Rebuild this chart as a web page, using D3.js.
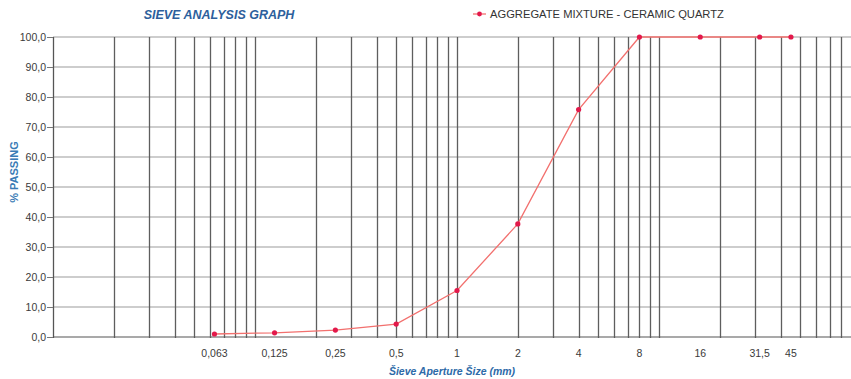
<!DOCTYPE html>
<html>
<head>
    <title>Sieve analysis graph</title>
    <meta charset="utf-8">
    <style>
        body { margin: 0; background: #fff; }
        svg { display: block; }
    </style>
</head>
<body>

<svg id="svg"></svg>
<script src="https://cdn.jsdelivr.net/npm/d3@7/dist/d3.min.js"></script>
<script>
    const sieveSizes = [0.063, 0.125, 0.25, 0.5, 1, 2, 4, 8, 16, 31.5, 45]
    const sieveLabels = ['0,063', '0,125', '0,25', '0,5', '1', '2', '4', '8', '16', '31,5', '45']
    const passing = [1.0, 1.4, 2.3, 4.3, 15.5, 37.7, 75.8, 100, 100, 100, 100]
    const yTicks = [0, 10, 20, 30, 40, 50, 60, 70, 80, 90, 100]

    const WIDTH = 851
    const HEIGHT = 379
    const LEFT = 53
    const TOP = 37
    const BOTTOM = 337

    const svg = d3.select('svg')
        .attr('width', WIDTH)
        .attr('height', HEIGHT)
        .style('font-family', 'Liberation Sans, Arial, sans-serif')

    const x = d3.scaleLog()
        .domain([0.01, 100])
        .range([LEFT, LEFT + 4 * 202])

    const y = d3.scaleLinear()
        .domain([0, 100])
        .range([BOTTOM, TOP])

    // horizontal grid
    svg.append('g')
        .selectAll('line')
        .data(yTicks)
        .enter().append('line')
        .attr('x1', LEFT)
        .attr('x2', WIDTH)
        .attr('y1', (d) => y(d))
        .attr('y2', (d) => y(d))
        .attr('stroke', (d) => d === 0 ? '#555' : '#9c9c9c')
        .attr('stroke-width', 1.1)

    // vertical log grid
    svg.append('g')
        .selectAll('line')
        .data(x.ticks())
        .enter().append('line')
        .attr('x1', (d) => Math.round(x(d)) + 0.5)
        .attr('x2', (d) => Math.round(x(d)) + 0.5)
        .attr('y1', TOP)
        .attr('y2', BOTTOM + 1)
        .attr('stroke', '#5e5e5e')
        .attr('stroke-width', 1.3)

    // y axis ticks and labels
    const yAxis = svg.append('g')
        .attr('transform', `translate(${LEFT},0)`)
        .call(d3.axisLeft(y)
            .tickValues(yTicks)
            .tickSize(6)
            .tickFormat((d) => d3.format('.1f')(d).replace('.', ',')))
    yAxis.select('.domain').attr('stroke', '#555')
    yAxis.selectAll('.tick line').attr('stroke', '#777')
    yAxis.selectAll('text')
        .attr('fill', '#3a3a3a')
        .attr('font-size', 10.5)
        .attr('font-family', 'Liberation Sans, Arial, sans-serif')
        .attr('x', -7)

    // x tick labels at sieve sizes
    svg.append('g')
        .selectAll('text')
        .data(sieveSizes)
        .enter().append('text')
        .attr('x', (d) => x(d))
        .attr('y', 357)
        .attr('text-anchor', 'middle')
        .attr('font-size', 10.5)
        .attr('fill', '#3a3a3a')
        .text((d, i) => sieveLabels[i])

    // curve
    const points = sieveSizes.map((s, i) => ({s: s, p: passing[i]}))
    svg.append('path')
        .datum(points)
        .attr('fill', 'none')
        .attr('stroke', '#f2706e')
        .attr('stroke-width', 1.3)
        .attr('d', d3.line().x((d) => x(d.s)).y((d) => y(d.p)))

    svg.append('g')
        .selectAll('circle')
        .data(points)
        .enter().append('circle')
        .attr('cx', (d) => x(d.s))
        .attr('cy', (d) => y(d.p))
        .attr('r', 2.6)
        .attr('fill', '#e3194b')

    // titles
    svg.append('text')
        .attr('x', 219)
        .attr('y', 19)
        .attr('text-anchor', 'middle')
        .attr('font-size', 12.5)
        .attr('font-weight', 'bold')
        .attr('font-style', 'italic')
        .attr('fill', '#2d5f9c')
        .text('SIEVE ANALYSIS GRAPH')

    svg.append('text')
        .attr('transform', 'translate(18,172) rotate(-90)')
        .attr('text-anchor', 'middle')
        .attr('font-size', 11)
        .attr('font-weight', 'bold')
        .attr('fill', '#3a7bb5')
        .text('% PASSING')

    svg.append('text')
        .attr('x', 452)
        .attr('y', 375)
        .attr('text-anchor', 'middle')
        .attr('font-size', 10.5)
        .attr('font-weight', 'bold')
        .attr('font-style', 'italic')
        .attr('fill', '#2d6aa8')
        .text('Šieve Aperture Šize (mm)')

    // legend
    const legend = svg.append('g')
    legend.append('line')
        .attr('x1', 473).attr('x2', 486)
        .attr('y1', 14).attr('y2', 14)
        .attr('stroke', '#f2706e')
        .attr('stroke-width', 1.3)
    legend.append('circle')
        .attr('cx', 479.5).attr('cy', 14)
        .attr('r', 2.4)
        .attr('fill', '#e3194b')
    legend.append('text')
        .attr('x', 490)
        .attr('y', 18)
        .attr('font-size', 11.2)
        .attr('fill', '#333')
        .text('AGGREGATE MIXTURE - CERAMIC QUARTZ')
</script>
</body>
</html>
